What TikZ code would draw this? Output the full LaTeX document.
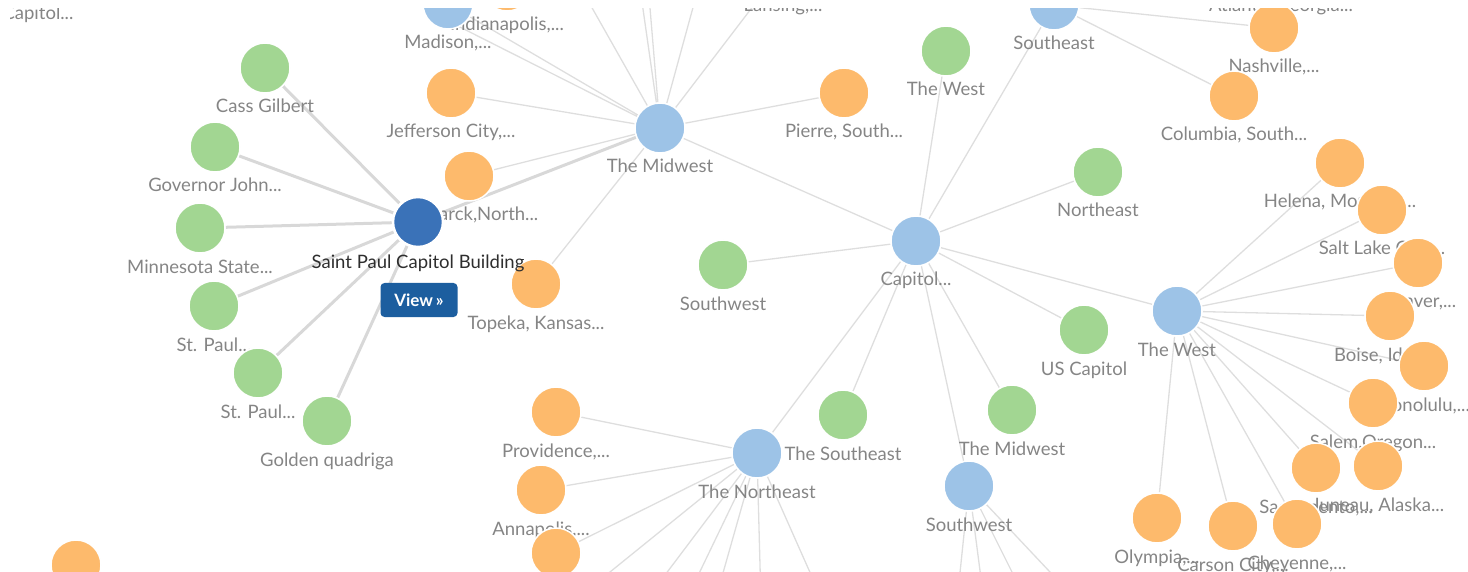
\documentclass[tikz,border=0pt]{standalone}
\usepackage{fontspec}
\setmainfont{Lato}
\usetikzlibrary{backgrounds}

\newcommand{\gnode}[4]{%
  \node[#1] (#2) at (#3) {};
  \node[lbl] (#2-l) at ([yshift=-45pt]#2.center) {#4};}

\begin{document}
\begin{tikzpicture}[x=1pt,y=-1pt,
    dot/.style={circle,draw=white,line width=1.5pt,minimum size=50pt,inner sep=0pt},
    region/.style={dot,fill=regionblue},
    topic/.style={dot,fill=topicgreen},
    city/.style={dot,fill=cityorange},
    lbl/.style={anchor=base,inner sep=0pt,text=labelgray,font=\fontsize{18.5}{20}\selectfont},
    link/.style={draw=edgegray,line width=1.3pt},
    stronglink/.style={draw=stronggray,line width=3pt}]

    \definecolor{regionblue}{HTML}{9DC3E7}
    \definecolor{topicgreen}{HTML}{A2D692}
    \definecolor{cityorange}{HTML}{FDBA6C}
    \definecolor{focusblue}{HTML}{3A72B8}
    \definecolor{buttonblue}{HTML}{1C5E9F}
    \definecolor{edgegray}{HTML}{DEDEDE}
    \definecolor{stronggray}{HTML}{D8D8D8}
    \definecolor{labelgray}{HTML}{858585}
    \definecolor{darktext}{HTML}{2E2E2E}

    \useasboundingbox (0,0) rectangle (1468,572);
    \clip (10,9) rectangle (1468,572);

    % Saint Paul cluster
    \gnode{topic}{cass}{265,68}{Cass Gilbert}
    \gnode{topic}{governor}{215,147}{Governor John...}
    \gnode{topic}{minnesota}{200,228}{Minnesota State...}
    \gnode{topic}{stpaula}{214,306}{St. Paul...}
    \gnode{topic}{stpaulb}{258,373}{St. Paul...}
    \gnode{topic}{golden}{327,421}{Golden quadriga}

    % The Midwest
    \gnode{region}{capleft}{38,-25}{Capitol...}
    \gnode{city}{indy}{507,-14}{Indianapolis,...}
    \gnode{region}{madison}{448,4}{Madison,...}
    \coordinate (madisonhid) at (442,18);
    \gnode{city}{lansing}{783,-33}{Lansing,...}
    \coordinate (mw1) at (565,-40);
    \coordinate (mw2) at (636,-40);
    \coordinate (mw3) at (646,-40);
    \coordinate (mw4) at (706,-40);
    \gnode{city}{jefferson}{451,93}{Jefferson City,...}
    \gnode{city}{bismarck}{469,176}{Bismarck,North...}
    \gnode{city}{pierre}{844,93}{Pierre, South...}
    \gnode{city}{topeka}{536,284}{Topeka, Kansas...}
    \gnode{region}{midwest}{660,128}{The Midwest}

    \node[dot,fill=focusblue,line width=2.5pt,draw=white] (stpaul) at (418,222) {};
    \node[lbl,text=darktext] (stpaul-l) at ([yshift=-47pt]stpaul.center) {Saint Paul Capitol Building};
    \node[fill=buttonblue,rounded corners=4pt,minimum width=77pt,minimum height=34pt,
          inner sep=0pt,text=white,font=\fontsize{17}{18}\selectfont\bfseries] (view) at (419,300) {View\,»};

    % Capitol hub
    \gnode{topic}{westg}{946,51}{The West}
    \gnode{region}{southeastb}{1054,5}{Southeast}
    \gnode{city}{atlanta}{1281,-33}{Atlanta, Georgia...}
    \gnode{city}{nashville}{1274,28}{Nashville,...}
    \gnode{city}{columbia}{1234,96}{Columbia, South...}
    \gnode{topic}{northeastg}{1098,172}{Northeast}
    \gnode{topic}{southwestg}{723,265}{Southwest}
    \gnode{region}{capitol}{916,241}{Capitol...}
    \gnode{topic}{uscapitol}{1084,330}{US Capitol}
    \gnode{topic}{midwestg}{1012,410}{The Midwest}
    \gnode{topic}{southeastg}{843,415}{The Southeast}

    % The West
    \gnode{city}{helena}{1340,163}{Helena, Montana...}
    \gnode{city}{saltlake}{1382,210}{Salt Lake City,...}
    \gnode{city}{denver}{1418,263}{Denver,...}
    \gnode{city}{boise}{1390,316}{Boise, Idaho...}
    \gnode{city}{honolulu}{1424,366}{Honolulu,...}
    \gnode{city}{salem}{1373,403}{Salem,Oregon...}
    \gnode{city}{juneau}{1378,466}{Juneau, Alaska...}
    \gnode{city}{sacramento}{1316,468}{Sacramento,...}
    \gnode{city}{olympia}{1157,518}{Olympia,...}
    \gnode{city}{carson}{1233,526}{Carson City,...}
    \gnode{city}{cheyenne}{1297,524}{Cheyenne,...}
    \gnode{region}{westb}{1177,311}{The West}

    % The Northeast and Southwest
    \gnode{city}{providence}{556,412}{Providence,...}
    \gnode{city}{annapolis}{541,490}{Annapolis,...}
    \node[city] (annapolisb) at (556,553) {};
    \node[city] (lowleft) at (76,565) {};
    \gnode{region}{northeastb}{757,453}{The Northeast}
    \gnode{region}{southwestb}{969,486}{Southwest}
    \coordinate (ne1) at (526,640);
    \coordinate (ne2) at (616,640);
    \coordinate (ne3) at (667,640);
    \coordinate (ne4) at (704,640);
    \coordinate (ne5) at (762,640);
    \coordinate (ne6) at (840,640);
    \coordinate (sw1) at (953,640);
    \coordinate (sw2) at (989,640);
    \coordinate (sw3) at (1046,640);
    \coordinate (sw4) at (1114,640);

    \begin{pgfonlayer}{background}
    \clip (10,9) rectangle (1468,572);

    \draw[stronglink] (stpaul) -- (cass) (stpaul) -- (governor) (stpaul) -- (minnesota)
        (stpaul) -- (stpaula) (stpaul) -- (stpaulb) (stpaul) -- (golden) (stpaul) -- (midwest);

    \draw[link] (midwest) -- (jefferson) (midwest) -- (bismarck) (midwest) -- (pierre)
        (midwest) -- (topeka) (midwest) -- (madison) (midwest) -- (madisonhid)
        (midwest) -- (mw1) (midwest) -- (mw2) (midwest) -- (mw3) (midwest) -- (mw4)
        (midwest) -- (lansing) (midwest) -- (capitol);

    \draw[link] (capitol) -- (westg) (capitol) -- (southeastb) (capitol) -- (northeastg)
        (capitol) -- (southwestg) (capitol) -- (westb) (capitol) -- (uscapitol)
        (capitol) -- (midwestg) (capitol) -- (southwestb) (capitol) -- (southeastg)
        (capitol) -- (northeastb);

    \draw[link] (southeastb) -- (nashville) (southeastb) -- (columbia);

    \draw[link] (westb) -- (helena) (westb) -- (saltlake) (westb) -- (denver)
        (westb) -- (boise) (westb) -- (honolulu) (westb) -- (salem) (westb) -- (juneau)
        (westb) -- (sacramento) (westb) -- (cheyenne) (westb) -- (carson) (westb) -- (olympia);

    \draw[link] (northeastb) -- (providence) (northeastb) -- (annapolis) (northeastb) -- (annapolisb)
        (northeastb) -- (ne1) (northeastb) -- (ne2) (northeastb) -- (ne3)
        (northeastb) -- (ne4) (northeastb) -- (ne5) (northeastb) -- (ne6);

    \draw[link] (southwestb) -- (sw1) (southwestb) -- (sw2) (southwestb) -- (sw3) (southwestb) -- (sw4);
    \end{pgfonlayer}

\end{tikzpicture}
\end{document}
